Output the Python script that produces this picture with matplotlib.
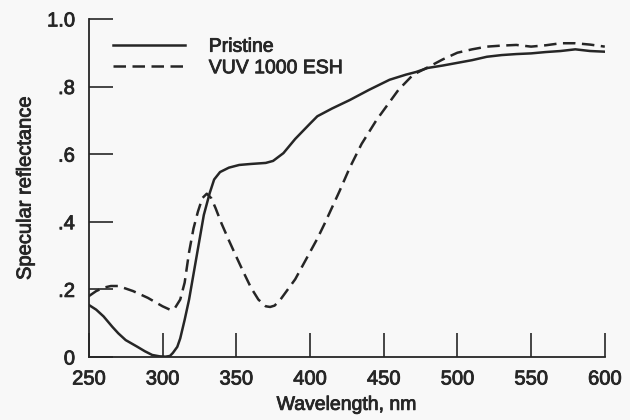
import matplotlib
matplotlib.use("Agg")
import matplotlib.pyplot as plt
import matplotlib.patheffects as pe

plt.rcParams['font.family'] = ['Liberation Sans', 'DejaVu Sans']

# Specular reflectance spectra
wl_pristine = [250, 255, 260, 266, 270, 275, 283, 288, 293, 298, 302, 305, 307, 310,
               312, 315, 318, 322, 325, 328, 332, 335, 339, 345, 352, 360, 370, 375,
               382, 390, 400, 405, 415, 427, 440, 454, 465, 472, 480, 490, 500, 510,
               520, 530, 540, 550, 560, 570, 580, 590, 600]
refl_pristine = [0.154, 0.14, 0.12, 0.089, 0.07, 0.05, 0.03, 0.017, 0.006, 0.002,
                 0.001, 0.003, 0.012, 0.03, 0.055, 0.11, 0.17, 0.27, 0.345, 0.42,
                 0.485, 0.525, 0.547, 0.56, 0.568, 0.571, 0.574, 0.58, 0.603, 0.645,
                 0.69, 0.712, 0.735, 0.76, 0.79, 0.82, 0.835, 0.843, 0.855, 0.862,
                 0.87, 0.878, 0.888, 0.893, 0.896, 0.898, 0.902, 0.905, 0.91, 0.905,
                 0.903]

wl_vuv = [250, 255, 260, 265, 270, 280, 290, 300, 305, 308, 312, 315, 318, 321, 324,
          327, 330, 333, 336, 340, 345, 350, 355, 360, 365, 370, 373, 376, 380, 385,
          390, 395, 400, 405, 410, 420, 427, 435, 445, 450, 460, 470, 480, 490, 500,
          510, 520, 530, 540, 550, 560, 570, 580, 590, 600]
refl_vuv = [0.18, 0.195, 0.205, 0.21, 0.21, 0.195, 0.175, 0.15, 0.14, 0.142, 0.17,
            0.22, 0.31, 0.38, 0.43, 0.47, 0.483, 0.47, 0.44, 0.395, 0.345, 0.297,
            0.25, 0.205, 0.17, 0.15, 0.148, 0.152, 0.17, 0.20, 0.23, 0.27, 0.31,
            0.35, 0.395, 0.49, 0.56, 0.63, 0.70, 0.73, 0.79, 0.835, 0.857, 0.88,
            0.90, 0.91, 0.918, 0.921, 0.923, 0.918, 0.922, 0.928, 0.928, 0.924, 0.918]

x_ticks = [250, 300, 350, 400, 450, 500, 550, 600]
y_ticks = [0, 0.2, 0.4, 0.6, 0.8, 1.0]
y_ticklabels = ["0", ".2", ".4", ".6", ".8", "1.0"]

bg = "#f8f8f8"
ink = "#262626"
heavy = [pe.withStroke(linewidth=0.6, foreground=ink)]

fig = plt.figure(figsize=(6.3, 4.2), dpi=100, facecolor=bg)
ax = fig.add_axes([0.141, 0.150, 0.819, 0.805], facecolor=bg)

ax.plot(wl_pristine, refl_pristine, color=ink, lw=1.8, solid_joinstyle='round',
        label="Pristine")
ax.plot(wl_vuv, refl_vuv, color=ink, lw=1.8, dashes=(5, 2.6),
        label="VUV 1000 ESH")

ax.set_xlim(250, 600)
ax.set_ylim(0, 1.0)
ax.set_xticks(x_ticks)
ax.set_yticks(y_ticks)
ax.set_yticklabels(y_ticklabels)

for side in ("top", "right"):
    ax.spines[side].set_visible(False)
for side in ("left", "bottom"):
    ax.spines[side].set_color(ink)
    ax.spines[side].set_linewidth(1.3)

ax.tick_params(direction="in", length=17, width=1.2, color=ink,
               labelsize=14.5, labelcolor=ink, pad=9)
ax.tick_params(axis="y", pad=10)

ax.set_xlabel("Wavelength, nm", fontsize=14, color=ink, labelpad=6)
ax.set_ylabel("Specular reflectance", fontsize=14.5, color=ink, labelpad=9)

leg = ax.legend(loc="upper left", bbox_to_anchor=(0.012, 0.995), frameon=False,
                fontsize=14, handlelength=3.75, handletextpad=1.2,
                labelspacing=0.2, labelcolor=ink)

texts = (ax.get_xticklabels() + ax.get_yticklabels() + leg.get_texts()
         + [ax.xaxis.label, ax.yaxis.label])
for t in texts:
    t.set_path_effects(heavy)

fig.savefig("out.png", dpi=100, facecolor=bg)
